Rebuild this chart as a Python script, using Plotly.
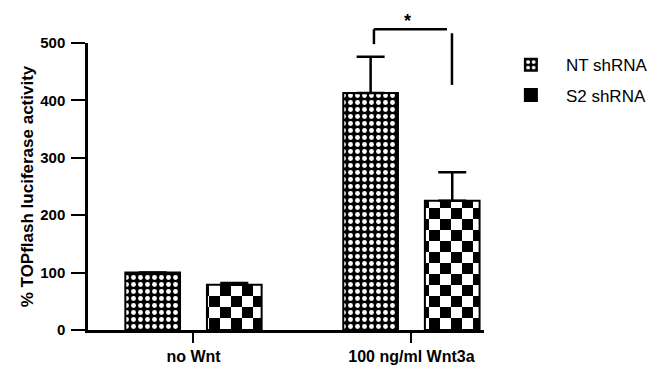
import plotly.graph_objects as go

categories = ["no Wnt", "100 ng/ml Wnt3a"]
series_names = ["NT shRNA", "S2 shRNA"]
nt_values = [100, 413]
nt_err = [0, 63]
s2_values = [79, 225]
s2_err = [3, 50]
y_ticks = [0, 100, 200, 300, 400, 500]

# significance bracket (value units) between the two Wnt3a bars
bracket_left_x = 0.828
bracket_right_x = 1.186
bracket_top = 524
bracket_left_bottom = 498
bracket_right_top = 517
bracket_right_bottom = 427
star_x = 0.984
star_y = 560

ymax = 500
black = "#000000"


def checker(size, fg, bg, fallback_solidity):
    h = size / 2
    path = f"M0,0H{h}V{h}H0Z M{h},{h}H{size}V{size}H{h}Z"
    try:
        return go.bar.marker.Pattern(path=path, size=size, fgcolor=fg, bgcolor=bg,
                                     fillmode="replace", solidity=1)
    except Exception:
        return go.bar.marker.Pattern(shape=".", size=size / 2 + 1, fgcolor=fg, bgcolor=bg,
                                     fillmode="replace", solidity=fallback_solidity)


fig = go.Figure()

fig.add_trace(go.Bar(
    name=series_names[0], x=categories, y=nt_values,
    marker=dict(color="white", line=dict(color=black, width=2),
                pattern=dict(shape=".", bgcolor=black, fgcolor="white",
                             fillmode="replace", size=7, solidity=0.38)),
    error_y=dict(type="data", array=nt_err, arrayminus=[0] * len(nt_err),
                 symmetric=False, thickness=2.5, width=14, color=black),
    legendgroup="a",
))

fig.add_trace(go.Bar(
    name=series_names[1], x=categories, y=s2_values,
    marker=dict(color="white", line=dict(color=black, width=2),
                pattern=checker(22, black, "white", 0.5)),
    error_y=dict(type="data", array=s2_err, arrayminus=[0] * len(s2_err),
                 symmetric=False, thickness=2.5, width=14, color=black),
    legendgroup="b",
))

line_style = dict(color=black, width=2.5)
shapes = [
    dict(type="line", xref="x", yref="paper", x0=bracket_left_x, x1=bracket_left_x,
         y0=bracket_left_bottom / ymax, y1=bracket_top / ymax, line=line_style),
    dict(type="line", xref="x", yref="paper", x0=bracket_left_x, x1=bracket_right_x - 0.023,
         y0=bracket_top / ymax, y1=bracket_top / ymax, line=line_style),
    dict(type="line", xref="x", yref="paper", x0=bracket_right_x, x1=bracket_right_x,
         y0=bracket_right_bottom / ymax, y1=bracket_right_top / ymax, line=line_style),
]

fig.update_layout(
    width=662, height=357,
    margin=dict(l=80, r=186, t=35, b=35, autoexpand=False),
    paper_bgcolor="white", plot_bgcolor="white",
    barmode="group", bargap=0.251, bargroupgap=0.33,
    font=dict(family="Liberation Sans, Arial, sans-serif", color=black),
    shapes=shapes,
    annotations=[dict(text="<b>*</b>", x=star_x, y=star_y / ymax, xref="x", yref="paper",
                      showarrow=False, font=dict(size=18, color=black))],
    legend=dict(x=1.03, y=0.985, xanchor="left", yanchor="top", itemwidth=60,
                font=dict(size=17, color=black), traceorder="grouped",
                tracegroupgap=5, bgcolor="rgba(0,0,0,0)"),
    showlegend=True,
)

fig.update_xaxes(
    range=[-0.484, 1.333], showline=True, linecolor=black, linewidth=2.5,
    ticks="outside", ticklen=10, tickwidth=2, tickcolor=black,
    tickfont=dict(size=16, weight="bold"), showgrid=False, zeroline=False,
)
fig.update_yaxes(
    range=[0, ymax], tickvals=y_ticks, showline=True, linecolor=black, linewidth=2.5,
    ticks="outside", ticklen=14, tickwidth=2, tickcolor=black, ticklabelstandoff=3,
    tickfont=dict(size=15, weight="bold"), showgrid=False, zeroline=False,
    title=dict(text="% TOPflash luciferase activity", standoff=3,
               font=dict(size=17, weight="bold")),
    automargin=False,
)

fig.write_html("out.html")
